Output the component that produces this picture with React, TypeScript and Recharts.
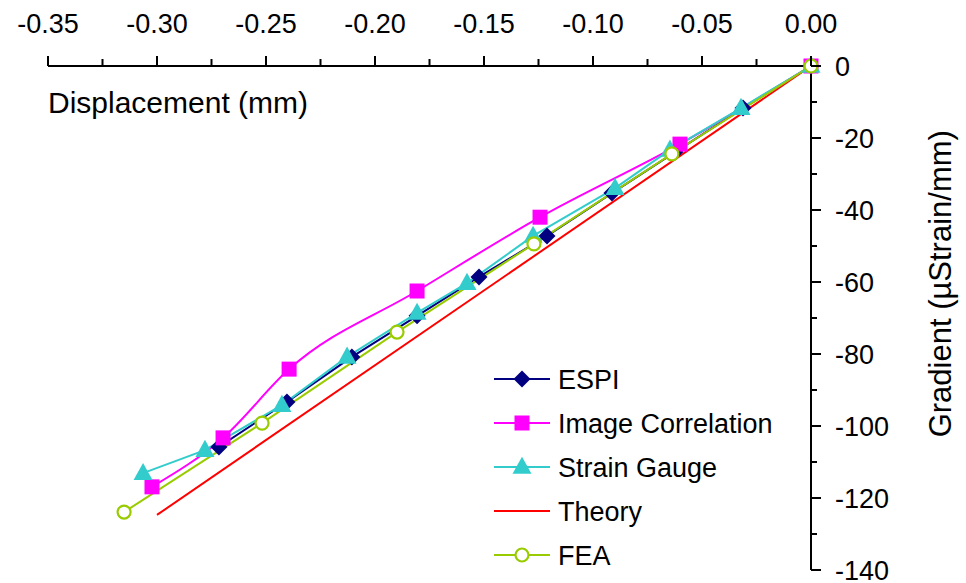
import { LineChart, Line, XAxis, YAxis, Label } from 'recharts';

// Displacement (mm) / Gradient (µStrain/mm) per series
const espiX = [0, -0.0312, -0.0624, -0.0913, -0.1211, -0.1523, -0.1807, -0.2106, -0.2404, -0.2716];
const espiY = [0, -11.7, -23.9, -35.3, -47.2, -58.6, -69.4, -80.8, -93.3, -105.8];

const imageX = [0, -0.0601, -0.1243, -0.1807, -0.2394, -0.2697, -0.3023];
const imageY = [0, -21.7, -42.0, -62.5, -84.2, -103.3, -116.9];

const gaugeX = [0, -0.0321, -0.0647, -0.0899, -0.1275, -0.1578, -0.1807, -0.2128, -0.2427, -0.278, -0.3064];
const gaugeY = [0, -11.7, -23.3, -33.9, -47.2, -60.3, -68.6, -80.8, -94.2, -106.7, -113.1];

const theoryX = [0, -0.3];
const theoryY = [0, -124.7];

const feaX = [0, -0.0638, -0.1271, -0.1899, -0.2518, -0.3151];
const feaY = [0, -24.4, -49.4, -73.9, -99.2, -123.9];

const xTicks = [-0.35, -0.325, -0.3, -0.275, -0.25, -0.225, -0.2, -0.175, -0.15, -0.125, -0.1, -0.075, -0.05, -0.025, 0];
const yTicks = [0, -10, -20, -30, -40, -50, -60, -70, -80, -90, -100, -110, -120, -130, -140];

const FONT = '"Liberation Sans", Arial, sans-serif';

const COLORS = {
  espi: '#000080',
  image: '#FF00FF',
  gauge: '#33CCCC',
  theory: '#FF0000',
  fea: '#99CC00',
};

const zip = (xs: number[], ys: number[]) => xs.map((x, i) => ({ x, y: ys[i] }));

function Diamond({ cx, cy, color, r = 8.5 }: { cx: number; cy: number; color: string; r?: number }) {
  return <polygon points={`${cx},${cy - r} ${cx + r},${cy} ${cx},${cy + r} ${cx - r},${cy}`} fill={color} />;
}
function Square({ cx, cy, color, s = 15 }: { cx: number; cy: number; color: string; s?: number }) {
  return <rect x={cx - s / 2} y={cy - s / 2} width={s} height={s} fill={color} />;
}
function Triangle({ cx, cy, color, w = 19 }: { cx: number; cy: number; color: string; w?: number }) {
  const h = w * 0.9;
  return <polygon points={`${cx},${cy - h * 0.6} ${cx + w / 2},${cy + h * 0.4} ${cx - w / 2},${cy + h * 0.4}`} fill={color} />;
}
function Circle({ cx, cy, color }: { cx: number; cy: number; color: string }) {
  return <circle cx={cx} cy={cy} r={6.5} fill="#fff" stroke={color} strokeWidth={2.2} />;
}

const dotOf = (kind: string, color: string) => (p: any) => {
  const { cx, cy, index } = p;
  if (cx == null || cy == null) return <g key={index} />;
  const k = `${kind}-${index}`;
  if (kind === 'diamond') return <Diamond key={k} cx={cx} cy={cy} color={color} />;
  if (kind === 'square') return <Square key={k} cx={cx} cy={cy} color={color} />;
  if (kind === 'triangle') return <Triangle key={k} cx={cx} cy={cy} color={color} />;
  return <Circle key={k} cx={cx} cy={cy} color={color} />;
};

function XTick({ x, y, payload, index }: any) {
  const major = index % 2 === 0;
  return (
    <g>
      <line x1={x} x2={x} y1={y} y2={y - (major ? 10 : 7)} stroke="#000" strokeWidth={2} />
      {major && (
        <text x={x} y={y - 33} textAnchor="middle" fontSize={27} fontFamily={FONT} fill="#000">
          {payload.value.toFixed(2)}
        </text>
      )}
    </g>
  );
}

function YTick({ x, y, payload }: any) {
  const major = Math.round(payload.value) % 20 === 0;
  return (
    <g>
      <line x1={x} x2={x + (major ? 10 : 6)} y1={y} y2={y} stroke="#000" strokeWidth={2} />
      {major && (
        <text x={x + 24} y={y + 9.5} textAnchor="start" fontSize={27} fontFamily={FONT} fill="#000">
          {payload.value}
        </text>
      )}
    </g>
  );
}

function XTitle({ viewBox }: any) {
  return (
    <text x={viewBox.x} y={viewBox.y + viewBox.height + 47} fontSize={30} fontFamily={FONT} fill="#000">
      Displacement (mm)
    </text>
  );
}

function YTitle({ viewBox }: any) {
  const cx = viewBox.x + 129;
  const cy = viewBox.y + viewBox.height * 0.432;
  return (
    <text
      x={cx}
      y={cy}
      transform={`rotate(-90 ${cx} ${cy})`}
      textAnchor="middle"
      dy={11}
      fontSize={31}
      fontFamily={FONT}
      fill="#000"
    >
      Gradient (µStrain/mm)
    </text>
  );
}

const legendItems = [
  { name: 'ESPI', color: COLORS.espi, kind: 'diamond' },
  { name: 'Image Correlation', color: COLORS.image, kind: 'square' },
  { name: 'Strain Gauge', color: COLORS.gauge, kind: 'triangle' },
  { name: 'Theory', color: COLORS.theory, kind: 'none' },
  { name: 'FEA', color: COLORS.fea, kind: 'circle' },
];

function LegendBox() {
  return (
    <svg width={320} height={226} style={{ position: 'absolute', left: 480, top: 357 }}>
      {legendItems.map((it, i) => {
        const cy = 22 + i * 44;
        return (
          <g key={it.name}>
            <line x1={14} x2={70} y1={cy} y2={cy} stroke={it.color} strokeWidth={2} />
            {it.kind !== 'none' && dotOf(it.kind, it.color)({ cx: 42, cy, index: i })}
            <text x={78} y={cy + 9.7} fontSize={27} fontFamily={FONT} fill="#000">
              {it.name}
            </text>
          </g>
        );
      })}
    </svg>
  );
}

export default function App() {
  return (
    <div style={{ position: 'absolute', left: 0, top: 0, width: 966, height: 583, background: '#fff', fontFamily: FONT }}>
      <LineChart width={966} height={583} margin={{ top: 16, right: 55, bottom: 13, left: 48 }}>
        <XAxis
          type="number"
          dataKey="x"
          orientation="top"
          domain={[-0.35, 0]}
          ticks={xTicks}
          interval={0}
          height={50}
          tickSize={0}
          tickMargin={0}
          tickLine={false}
          tick={<XTick />}
          axisLine={{ stroke: '#000', strokeWidth: 2 }}
        >
          <Label content={<XTitle />} />
        </XAxis>
        <YAxis
          type="number"
          dataKey="y"
          orientation="right"
          domain={[-140, 0]}
          ticks={yTicks}
          interval={0}
          width={100}
          tickSize={0}
          tickMargin={0}
          tickLine={false}
          tick={<YTick />}
          axisLine={{ stroke: '#000', strokeWidth: 2 }}
        >
          <Label content={<YTitle />} />
        </YAxis>
        <Line data={zip(espiX, espiY)} dataKey="y" name="ESPI" stroke={COLORS.espi} strokeWidth={2}
          dot={dotOf('diamond', COLORS.espi)} isAnimationActive={false} />
        <Line data={zip(imageX, imageY)} dataKey="y" name="Image Correlation" type="monotone" stroke={COLORS.image} strokeWidth={2}
          dot={dotOf('square', COLORS.image)} isAnimationActive={false} />
        <Line data={zip(gaugeX, gaugeY)} dataKey="y" name="Strain Gauge" stroke={COLORS.gauge} strokeWidth={2}
          dot={dotOf('triangle', COLORS.gauge)} isAnimationActive={false} />
        <Line data={zip(theoryX, theoryY)} dataKey="y" name="Theory" stroke={COLORS.theory} strokeWidth={2}
          dot={false} isAnimationActive={false} />
        <Line data={zip(feaX, feaY)} dataKey="y" name="FEA" stroke={COLORS.fea} strokeWidth={2}
          dot={dotOf('circle', COLORS.fea)} isAnimationActive={false} />
      </LineChart>
      <LegendBox />
    </div>
  );
}
